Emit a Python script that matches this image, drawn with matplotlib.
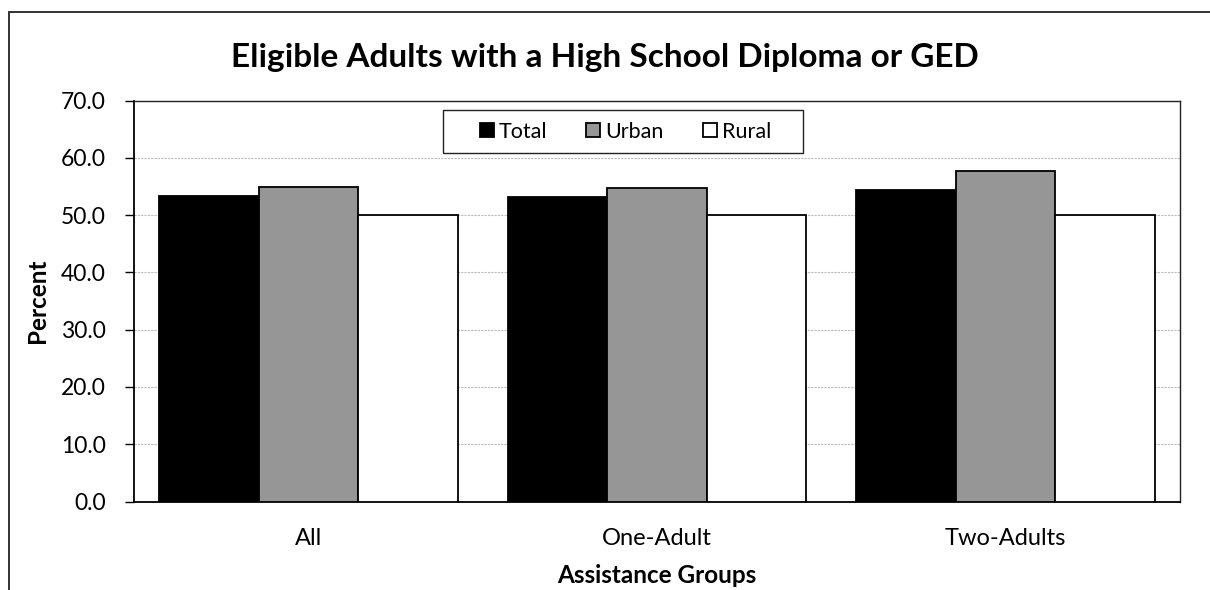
import matplotlib
matplotlib.use("Agg")
import matplotlib.pyplot as plt
import numpy as np
from matplotlib.patches import Rectangle
from matplotlib.ticker import FormatStrFormatter

categories = ["All", "One-Adult", "Two-Adults"]
series_names = ["Total", "Urban", "Rural"]
total = [53.3, 53.2, 54.4]
urban = [55.0, 54.8, 57.7]
rural = [50.0, 50.0, 50.0]
colors = ["#000000", "#969696", "#ffffff"]

plt.rcParams['font.family'] = ['Lato', 'DejaVu Sans']

W, H = 1210, 590
fig = plt.figure(figsize=(12.1, 5.9), dpi=100)
# outer chart border
fig.patches.append(Rectangle((9/W, -0.1), 1.2, (H-11.7)/H + 0.1,
                             transform=fig.transFigure, fill=False,
                             edgecolor="#222222", linewidth=1.3))

ax = fig.add_axes([134/W, (H-501.5)/H, (1180-134)/W, (501.5-100.7)/H])
x = np.arange(len(categories))
w = 0.2857
for i, (vals, name) in enumerate(zip([total, urban, rural], series_names)):
    ax.bar(x + (i - 1) * w, vals, w, color=colors[i], edgecolor="black",
           linewidth=1.3, label=name, zorder=3)

ax.set_xlim(-0.5, 2.5)
ax.set_ylim(0, 70)
ax.set_yticks(np.arange(0, 71, 10))
ax.yaxis.set_major_formatter(FormatStrFormatter('%.1f'))
ax.set_xticks(x)
ax.set_xticklabels(categories, fontsize=17)
ax.tick_params(axis='y', labelsize=16.5, length=6.5, width=1, direction='out', pad=14)
ax.tick_params(axis='x', length=0, pad=19)
ax.yaxis.grid(True, color="#bbbbbb", linestyle=(0, (2, 1)), linewidth=0.8, zorder=0)
ax.set_axisbelow(True)
for s in ['left', 'bottom']:
    ax.spines[s].set_linewidth(1.3)
    ax.spines[s].set_color('#000000')
for s in ['top', 'right']:
    ax.spines[s].set_linewidth(1.0)
    ax.spines[s].set_color('#222222')

ax.set_ylabel("Percent", fontsize=17.5, fontweight='bold', labelpad=8)
ax.set_xlabel("Assistance Groups", fontsize=17.5, fontweight='bold', labelpad=11)
fig.text(0.5, (H-57)/H, "Eligible Adults with a High School Diploma or GED",
         ha='center', va='center', fontsize=24, fontweight='bold')

# legend box drawn separately to match the wide padding
lx0, lx1, ly0, ly1 = 443, 803, 110, 153
fig.patches.append(Rectangle((lx0/W, (H-ly1)/H), (lx1-lx0)/W, (ly1-ly0)/H,
                             transform=fig.transFigure, facecolor='white',
                             edgecolor='#222222', linewidth=1.0, zorder=5))
leg = fig.legend(*ax.get_legend_handles_labels(), ncol=3, loc='center',
                 bbox_to_anchor=((lx0+lx1)/2/W + 0.002, (H-(ly0+ly1)/2)/H),
                 frameon=False, fontsize=15.5,
                 handlelength=0.65, handleheight=0.65, handletextpad=0.25,
                 columnspacing=1.8, borderpad=0.2)
leg.set_zorder(6)

fig.savefig("out.png", dpi=100)
